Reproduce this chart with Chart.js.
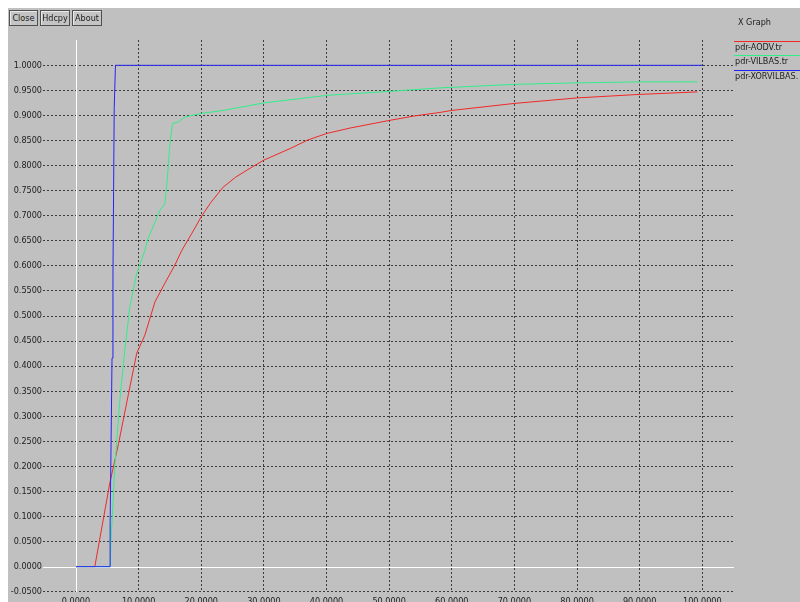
<!DOCTYPE html>
<html>
<head>
<meta charset="utf-8">
<script src="https://cdn.jsdelivr.net/npm/chart.js@4.4.1/dist/chart.umd.min.js"></script>
<style>
  body { margin: 0; background: #ffffff; width: 800px; height: 602px; overflow: hidden; position: relative; }
  #panel { position: absolute; left: 8px; top: 8px; width: 792px; height: 594px; background: #c0c0c0; }
  #graph { position: absolute; left: 0; top: 0; }
  .btn {
    position: absolute; top: 10px; height: 14px; border: 1px solid #505050;
    box-shadow: inset 1px 1px 0 #e8e8e8; font: 9px "DejaVu Sans Condensed", sans-serif;
    color: #202020; line-height: 14px; text-align: center; background: #c4c4c4;
  }
</style>
</head>
<body>
<div id="panel"></div>
<canvas id="graph" width="800" height="602"></canvas>
<div class="btn" style="left:9px;width:27px">Close</div>
<div class="btn" style="left:40px;width:28px">Hdcpy</div>
<div class="btn" style="left:72px;width:28px">About</div>
<script>
// series
const seriesNames = ['pdr-AODV.tr', 'pdr-VILBAS.tr', 'pdr-XORVILBAS.'];
const seriesColors = ['#f02828', '#30ee88', '#2424f4'];

const aodvX = [0, 3.0, 5.4, 6.8, 8.4, 9.7, 11.0, 12.6, 14.3, 15.8, 16.9, 18.5, 20, 21.5, 23.5, 25.5, 27.3, 30, 34.2, 37, 40, 43.8, 50, 54, 58.1, 60, 70, 80, 90, 99.2];
const aodvY = [0, 0, 0.167, 0.246, 0.346, 0.426, 0.462, 0.528, 0.568, 0.602, 0.631, 0.665, 0.698, 0.726, 0.757, 0.777, 0.791, 0.811, 0.834, 0.851, 0.864, 0.875, 0.890, 0.899, 0.906, 0.910, 0.924, 0.935, 0.942, 0.947];

const vilbasX = [0, 5.45, 5.6, 6.2, 7.0, 7.8, 8.6, 9.7, 11.0, 11.4, 13.4, 14.2, 14.6, 15.0, 15.4, 16.3, 17.4, 20, 23.5, 30, 40, 50, 58.1, 70, 80, 90, 99.2];
const vilbasY = [0, 0, 0.054, 0.2, 0.333, 0.432, 0.519, 0.585, 0.631, 0.651, 0.711, 0.724, 0.777, 0.844, 0.884, 0.887, 0.897, 0.904, 0.910, 0.925, 0.940, 0.948, 0.955, 0.962, 0.965, 0.967, 0.967];

const xorX = [0, 5.45, 5.45, 5.6, 5.75, 5.9, 6.0, 6.1, 6.3, 100];
const xorY = [0, 0, 0.083, 0.25, 0.416, 0.58, 0.748, 0.914, 1.0, 1.0];

const xTicks = [0, 10, 20, 30, 40, 50, 60, 70, 80, 90, 100];
const yTicks = [-0.05, 0, 0.05, 0.1, 0.15, 0.2, 0.25, 0.3, 0.35, 0.4, 0.45, 0.5,
                0.55, 0.6, 0.65, 0.7, 0.75, 0.8, 0.85, 0.9, 0.95, 1.0];

const toPoints = (xs, ys) => xs.map((x, i) => ({ x: x, y: ys[i] }));
const labelFont = { family: 'DejaVu Sans Condensed', size: 9 };
const gridColor = ctx => (ctx.tick && ctx.tick.value === 0) ? 'rgba(0,0,0,0)' : '#3c3c3c';

// white zero axes, like xgraph draws them
const zeroAxes = {
    id: 'zeroAxes',
    beforeDatasetsDraw(chart) {
        const { ctx, chartArea, scales } = chart;
        const px = Math.round(scales.x.getPixelForValue(0)) + 0.5;
        const py = Math.round(scales.y.getPixelForValue(0)) + 0.5;
        ctx.save();
        ctx.strokeStyle = '#ffffff';
        ctx.lineWidth = 1;
        ctx.beginPath();
        ctx.moveTo(px, chartArea.top);
        ctx.lineTo(px, chartArea.bottom);
        ctx.moveTo(chartArea.left, py);
        ctx.lineTo(chartArea.right, py);
        ctx.stroke();
        ctx.restore();
    }
};

// title and legend on the right side
const sideLegend = {
    id: 'sideLegend',
    afterDraw(chart) {
        const ctx = chart.ctx;
        ctx.save();
        ctx.font = '9px "DejaVu Sans Condensed"';
        ctx.fillStyle = '#202020';
        ctx.textBaseline = 'middle';
        ctx.fillText('X Graph', 738, 23);
        seriesNames.forEach((name, i) => {
            const ty = 47.5 + i * 14.4;
            ctx.strokeStyle = seriesColors[i];
            ctx.lineWidth = 1;
            ctx.beginPath();
            ctx.moveTo(734, Math.round(ty - 6.5) + 0.5);
            ctx.lineTo(800, Math.round(ty - 6.5) + 0.5);
            ctx.stroke();
            ctx.fillStyle = '#202020';
            ctx.fillText(name, 735, ty);
        });
        ctx.restore();
    }
};

new Chart(document.getElementById('graph'), {
    type: 'line',
    data: {
        datasets: [
            { label: seriesNames[2], data: toPoints(xorX, xorY), borderColor: seriesColors[2], order: 1 },
            { label: seriesNames[1], data: toPoints(vilbasX, vilbasY), borderColor: seriesColors[1], order: 2 },
            { label: seriesNames[0], data: toPoints(aodvX, aodvY), borderColor: seriesColors[0], order: 3 }
        ]
    },
    options: {
        responsive: false,
        animation: false,
        devicePixelRatio: 1,
        elements: {
            line: { borderWidth: 1, tension: 0, fill: false },
            point: { radius: 0, hoverRadius: 0 }
        },
        layout: { padding: { top: 40, right: 66, left: 0, bottom: 0 } },
        plugins: { legend: { display: false }, tooltip: { enabled: false } },
        scales: {
            x: {
                type: 'linear',
                min: -5.27,
                max: 105.06,
                afterBuildTicks: s => { s.ticks = xTicks.map(v => ({ value: v })); },
                afterFit: s => { s.height = 10; },
                ticks: {
                    callback: v => Number(v).toFixed(4),
                    font: labelFont, color: '#202020', padding: 4,
                    maxRotation: 0, autoSkip: false
                },
                grid: { color: gridColor, drawTicks: false, lineWidth: 1 },
                border: { display: false, dash: [2, 2] }
            },
            y: {
                type: 'linear',
                min: -0.0505,
                max: 1.0505,
                afterBuildTicks: s => { s.ticks = yTicks.map(v => ({ value: v })); },
                afterFit: s => { s.width = 43; },
                ticks: {
                    callback: v => Number(v).toFixed(4),
                    font: labelFont, color: '#202020', padding: 1,
                    autoSkip: false
                },
                grid: { color: gridColor, drawTicks: false, lineWidth: 1 },
                border: { display: false, dash: [2, 2] }
            }
        }
    },
    plugins: [zeroAxes, sideLegend]
});
</script>
</body>
</html>
